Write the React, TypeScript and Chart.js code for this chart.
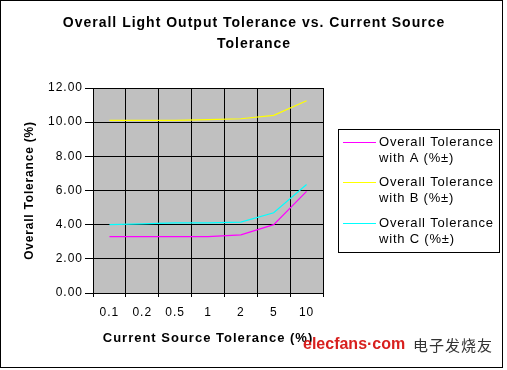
import React, { useEffect, useRef } from "react";
import { Chart, registerables } from "chart.js";

Chart.register(...registerables);

const categories = ["0.1", "0.2", "0.5", "1", "2", "5", "10"];
const toleranceA = [3.3, 3.3, 3.3, 3.3, 3.4, 4.0, 5.95];
const toleranceB = [10.1, 10.1, 10.1, 10.15, 10.2, 10.4, 11.25];
const toleranceC = [4.0, 4.05, 4.1, 4.1, 4.15, 4.7, 6.35];
const seriesNames = [
  ["Overall Tolerance", "with A (%±)"],
  ["Overall Tolerance", "with B (%±)"],
  ["Overall Tolerance", "with C (%±)"],
];
const seriesColors = ["#FF00FF", "#FFFF00", "#00FFFF"];
const titleLines = ["Overall Light Output Tolerance vs. Current Source", "Tolerance"];
const xTitle = "Current Source Tolerance (%)";
const yTitle = "Overall Tolerance (%)";
const yMin = 0;
const yMax = 12;
const yStep = 2;

const FONT = "'Liberation Sans', Arial, sans-serif";

const setSpacing = (chart: any) => {
  (chart.ctx as any).letterSpacing = "1px";
};

const framePlugin = {
  id: "frame",
  beforeUpdate(chart: any) {
    setSpacing(chart);
  },
  beforeLayout(chart: any) {
    setSpacing(chart);
  },
  afterLayout(chart: any) {
    const ys = chart.scales.y;
    if (ys && !ys.__patched) {
      const orig = ys.drawTitle;
      ys.drawTitle = function (...args: any[]) {
        const c = this.ctx;
        c.save();
        c.letterSpacing = "0.8px";
        orig.apply(this, args);
        c.restore();
      };
      ys.__patched = true;
    }
  },
  beforeDraw(chart: any) {
    const { ctx, chartArea } = chart;
    setSpacing(chart);
    ctx.save();
    ctx.fillStyle = "#FFFFFF";
    ctx.fillRect(0, 0, chart.width, chart.height);
    ctx.fillStyle = "#C0C0C0";
    ctx.fillRect(chartArea.left, chartArea.top, chartArea.right - chartArea.left, chartArea.bottom - chartArea.top);
    ctx.restore();
  },
  afterDraw(chart: any) {
    const { ctx } = chart;
    ctx.save();
    ctx.strokeStyle = "#000";
    ctx.lineWidth = 1;
    ctx.strokeRect(0.5, 0.5, 502, 367);
    // title
    ctx.letterSpacing = "1px";
    ctx.fillStyle = "#000";
    ctx.font = `bold 14px ${FONT}`;
    ctx.textAlign = "center";
    ctx.textBaseline = "middle";
    titleLines.forEach((t, i) => ctx.fillText(t, 254, 23 + i * 21));
    // legend
    const bx = 338.5, by = 129.5, bw = 161, bh = 123;
    ctx.fillStyle = "#FFFFFF";
    ctx.fillRect(bx, by, bw, bh);
    ctx.strokeRect(bx, by, bw, bh);
    const rowY = [142, 182, 223];
    chart.data.datasets.forEach((ds: any, i: number) => {
      const y = rowY[i];
      ctx.strokeStyle = ds.borderColor;
      ctx.lineWidth = 1;
      ctx.beginPath();
      ctx.moveTo(343, y + 0.5);
      ctx.lineTo(376, y + 0.5);
      ctx.stroke();
      ctx.fillStyle = "#000";
      ctx.font = `13px ${FONT}`;
      ctx.letterSpacing = "0.8px";
      ctx.textBaseline = "middle";
      ctx.textAlign = "left";
      seriesNames[i].forEach((t, j) => ctx.fillText(t, 379, y + j * 16));
    });
    // watermark
    ctx.letterSpacing = "0px";
    ctx.textAlign = "left";
    ctx.textBaseline = "middle";
    ctx.fillStyle = "#D8201E";
    ctx.font = `bold 16px ${FONT}`;
    ctx.fillText("elecfans·com", 303, 345);
    ctx.fillStyle = "#333";
    ctx.font = `15px 'Noto Sans CJK SC', sans-serif`;
    ctx.letterSpacing = "1px";
    ctx.fillText("电子发烧友", 413, 345);
    ctx.restore();
  },
};

export default function App() {
  const ref = useRef<HTMLCanvasElement | null>(null);
  useEffect(() => {
    document.body.style.margin = "0";
    const canvas = ref.current!;
    const mk = (label: string, data: number[], color: string) => ({
      label,
      data,
      borderColor: color,
      backgroundColor: color,
      borderWidth: 1.2,
      pointRadius: 0,
      tension: 0,
      fill: false,
    });
    const chart = new Chart(canvas, {
      type: "line",
      data: {
        labels: categories,
        datasets: [
          mk(seriesNames[0].join(" "), toleranceA, seriesColors[0]),
          mk(seriesNames[1].join(" "), toleranceB, seriesColors[1]),
          mk(seriesNames[2].join(" "), toleranceC, seriesColors[2]),
        ],
      },
      options: {
        responsive: false,
        animation: false,
        devicePixelRatio: 1,
        layout: { padding: { left: 0, right: 184, top: 88, bottom: 0 } },
        plugins: {
          legend: { display: false },
          tooltip: { enabled: false },
          title: { display: false },
        },
        scales: {
          x: {
            type: "category",
            offset: true,
            grid: { offset: true, color: "#000", lineWidth: 1, tickLength: 4 },
            border: { color: "#000" },
            ticks: { color: "#000", font: { family: FONT, size: 12 }, padding: 8, maxRotation: 0, autoSkip: false },
            title: {
              display: true,
              text: xTitle,
              color: "#000",
              font: { family: FONT, size: 13, weight: "bold" },
              padding: { top: 0, bottom: 24 },
            },
            afterFit: (s: any) => {
              s.height = 77;
            },
          },
          y: {
            min: yMin,
            max: yMax,
            grid: { color: "#000", lineWidth: 1, tickLength: 8 },
            border: { color: "#000" },
            ticks: {
              stepSize: yStep,
              color: "#000",
              font: { family: FONT, size: 12 },
              padding: 2,
              callback: (v: any) => Number(v).toFixed(2),
            },
            title: {
              display: true,
              text: yTitle,
              color: "#000",
              font: { family: FONT, size: 12, weight: "bold" },
              padding: { top: 22, bottom: 0 },
            },
            afterFit: (s: any) => {
              s.width = 93;
            },
          },
        },
      },
      plugins: [framePlugin],
    } as any);
    return () => chart.destroy();
  }, []);
  return <canvas ref={ref} width={507} height={370} style={{ display: "block", width: 507, height: 370 }} />;
}
